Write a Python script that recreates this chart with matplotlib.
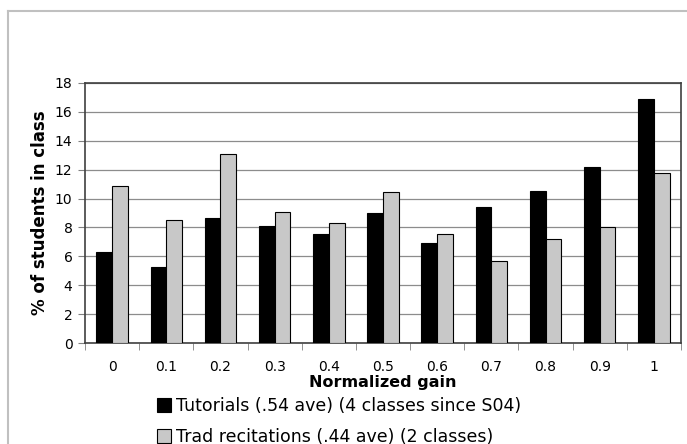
import matplotlib.pyplot as plt
import numpy as np
from matplotlib.lines import Line2D

# data
gains = ['0', '0.1', '0.2', '0.3', '0.4', '0.5', '0.6', '0.7', '0.8', '0.9', '1']
tutorials = [6.28, 5.25, 8.68, 8.10, 7.55, 8.98, 6.91, 9.39, 10.52, 12.15, 16.87]
trad = [10.87, 8.54, 13.05, 9.05, 8.29, 10.47, 7.55, 5.69, 7.18, 8.01, 11.74]
labels = ['Tutorials (.54 ave) (4 classes since S04)',
          'Trad recitations (.44 ave) (2 classes)']

plt.rcParams['font.family'] = 'DejaVu Sans'

fig = plt.figure(figsize=(6.87, 4.44), dpi=100)
ax = fig.add_axes([0.1237, 0.2268, 0.8676, 0.5869])

x = np.arange(len(gains))
w = 0.29
ax.bar(x - w / 2, tutorials, w, color='black', edgecolor='black', lw=0.8,
       label=labels[0], zorder=3)
ax.bar(x + w / 2, trad, w, color='#c8c8c8', edgecolor='black', lw=0.8,
       label=labels[1], zorder=3)

ax.set_xlim(-0.5, len(gains) - 0.5)
ax.set_ylim(0, 18)
ax.set_yticks(range(0, 19, 2))
ax.yaxis.grid(True, color='#8c8c8c', lw=0.9, zorder=0)

ax.set_xticks(x)
ax.set_xticklabels(gains)
ax.set_xticks(np.arange(-0.5, len(gains)), minor=True)
ax.tick_params(axis='x', which='major', length=0, pad=12, labelsize=10)
ax.tick_params(axis='x', which='minor', length=5, color='#808080', direction='out')
ax.tick_params(axis='y', length=5, color='#808080', labelsize=10, pad=4)

for s in ax.spines.values():
    s.set_color('#404040')
    s.set_linewidth(1.2)

ax.set_xlabel('Normalized gain', fontsize=11.5, fontweight='bold', labelpad=1)
ax.set_ylabel('% of students in class', fontsize=12, fontweight='bold', labelpad=4)

fig.legend(loc='upper left', bbox_to_anchor=(157 / 687, 1 - 397 / 444), frameon=False,
           fontsize=12.5, handlelength=0.8, handleheight=0.8, handletextpad=0.3,
           labelspacing=0.75, borderpad=0, borderaxespad=0)

# outer chart border (gray)
fig.add_artist(Line2D([8 / 687, 8 / 687], [0, 1 - 11 / 444], color='#c0c0c0', lw=1.5))
fig.add_artist(Line2D([8 / 687, 1], [1 - 11 / 444, 1 - 11 / 444], color='#c0c0c0', lw=1.5))

fig.savefig('out.png', dpi=100)
